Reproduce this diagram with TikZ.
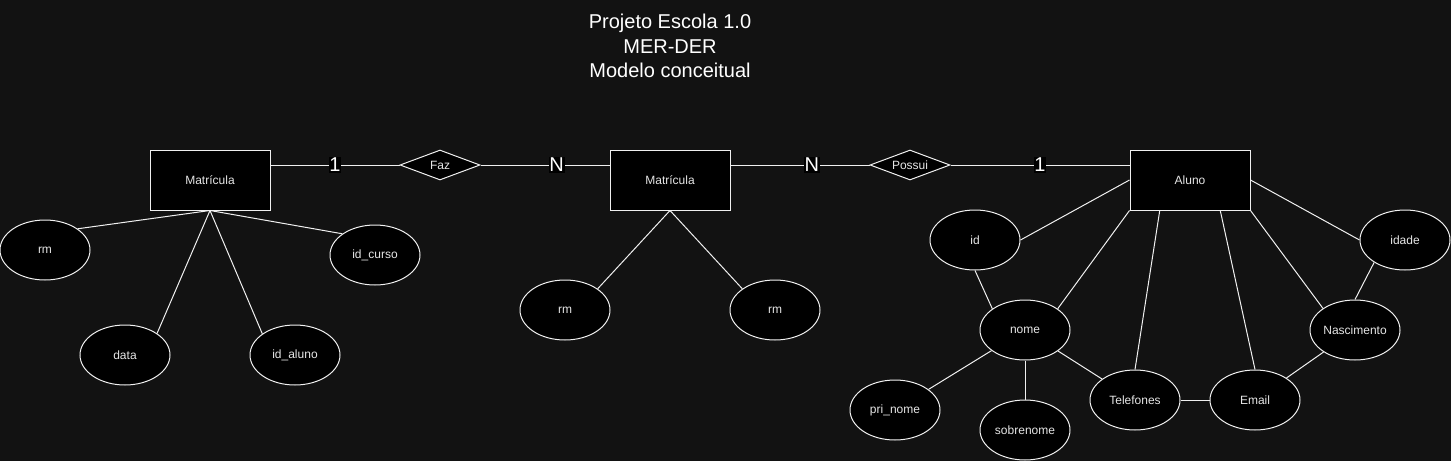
\documentclass[tikz,border=0pt]{standalone}
\usepackage{fontspec}
\setmainfont{Liberation Sans}
\usetikzlibrary{shapes.geometric,calc}
\definecolor{bgc}{HTML}{121212}
\definecolor{lnc}{HTML}{F0F0F0}
\definecolor{txc}{HTML}{E6E6E6}
\begin{document}
\begin{tikzpicture}[x=1pt,y=-1pt,
  smallfont/.style={font=\fontsize{12}{14}\selectfont},
  ent/.style={draw=lnc, fill=black, line width=1pt, minimum width=120pt, minimum height=60pt, inner sep=0pt, text=txc, smallfont},
  attr/.style={ellipse, draw=lnc, fill=black, line width=1pt, minimum width=90pt, minimum height=60pt, inner sep=0pt, text=txc, smallfont},
  rel/.style={diamond, draw=lnc, fill=black, line width=1pt, minimum width=80pt, minimum height=30pt, inner sep=0pt, aspect=2.67, text=txc, smallfont},
  conn/.style={draw=lnc, line width=1pt},
  card/.style={fill=black, text=white, inner sep=0.8pt, font=\fontsize{20}{22}\selectfont}
]
\fill[bgc] (0,0) rectangle (1451,461);
\useasboundingbox (0,0) rectangle (1451,461);

\node[text=white, align=center, font=\fontsize{20}{24.5}\selectfont] (title) at (670,46) {Projeto Escola 1.0\\MER-DER\\Modelo conceitual};

\node[ent] (m1) at (210,180) {Matrícula};
\node[ent] (m2) at (670,180) {Matrícula};
\node[ent] (al) at (1190,180) {Aluno};
\node[rel] (faz) at (440,165) {Faz};
\node[rel] (pos) at (910,165) {Possui};

\node[attr] (rm1) at (45,250) {rm};
\node[attr] (idc) at (375,255) {id\_curso};
\node[attr] (dat) at (125,355) {data};
\node[attr] (ida) at (295,355) {id\_aluno};

\node[attr] (rm2) at (565,310) {rm};
\node[attr] (rm3) at (775,310) {rm};

\node[attr] (id) at (975,240) {id};
\node[attr] (idade) at (1405,240) {idade};
\node[attr] (nome) at (1025,330) {nome};
\node[attr] (nasc) at (1355,330) {Nascimento};
\node[attr] (tel) at (1135,400) {Telefones};
\node[attr] (pri) at (895,410) {pri\_nome};
\node[attr] (sob) at (1025,430) {sobrenome};
\node[attr] (em) at (1255,400) {Email};

% relationships
\draw[conn] (m1.east |- faz.west) -- node[card, pos=0.5] {1} (faz.west);
\draw[conn] (faz.east) -- node[card, pos=0.59] {N} (m2.west |- faz.east);
\draw[conn] (m2.east |- pos.west) -- node[card, pos=0.586] {N} (pos.west);
\draw[conn] (pos.east) -- node[card, pos=0.5] {1} (al.west |- pos.east);

% left entity attributes
\draw[conn] (m1.south) -- (rm1.33);
\draw[conn] (m1.south) -- (idc.147);
\draw[conn] (m1.south) -- (dat.34);
\draw[conn] (m1.south) -- (ida.147);

% middle entity attributes
\draw[conn] (m2.south) -- (rm2.33);
\draw[conn] (m2.south) -- (rm3.147);

% Aluno attributes
\draw[conn] (al.west) -- (id.east);
\draw[conn] (al.south west) -- (nome.33);
\draw[conn] ($(al.south west)!0.25!(al.south east)$) -- (tel.north);
\draw[conn] ($(al.south west)!0.75!(al.south east)$) -- (em.north);
\draw[conn] (al.south east) -- (nasc.146);
\draw[conn] (al.east) -- (idade.west);
\draw[conn] (id.south) -- (nome.147);
\draw[conn] (idade.216) -- (nasc.north);
\draw[conn] (nome) -- (pri);
\draw[conn] (nome.south) -- (sob.north);
\draw[conn] (nome) -- (tel);
\draw[conn] (tel.east) -- (em.west);
\draw[conn] (em) -- (nasc);
\end{tikzpicture}
\end{document}
